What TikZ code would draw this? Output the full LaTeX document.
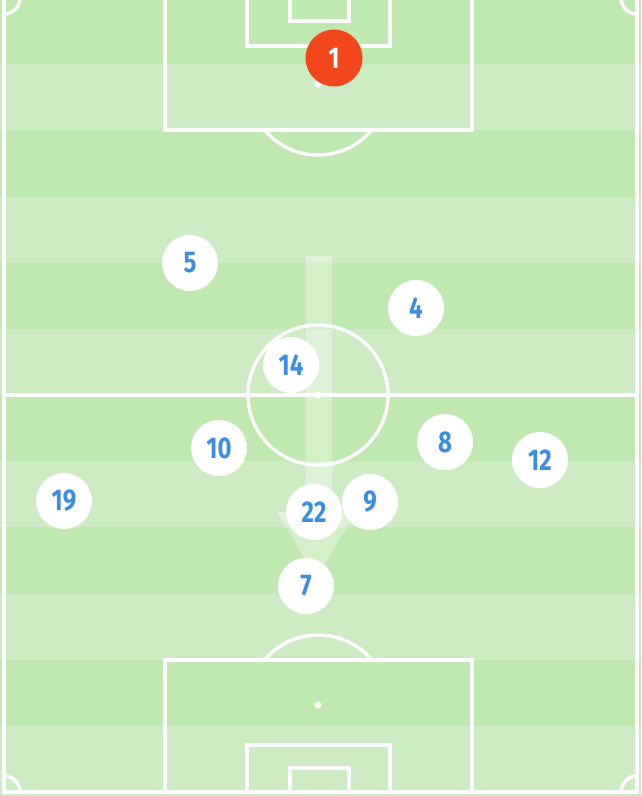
\documentclass[tikz,border=0pt]{standalone}
\usepackage{fontspec}
\setmainfont{Fira Sans}
\definecolor{stripeDark}{HTML}{C0E9B1}
\definecolor{stripeLight}{HTML}{CEECC4}
\definecolor{numBlue}{HTML}{3A8DE0}
\definecolor{keeperRed}{HTML}{F2461C}
\tikzset{
  pitchline/.style={draw=white, line width=3.4pt},
  player/.style={circle, fill=white, minimum size=56pt, inner sep=0pt,
    text=numBlue, font=\fontsize{30}{30}\selectfont\bfseries},
  keeper/.style={circle, fill=keeperRed, minimum size=57pt, inner sep=0pt,
    text=white, font=\fontsize{30}{30}\selectfont\bfseries},
  passarrow/.style={fill=white, fill opacity=0.32},
}
\newcommand{\nnum}[1]{\scalebox{0.8}[1]{#1}}
\begin{document}
\begin{tikzpicture}[x=1pt,y=-1pt]
\useasboundingbox (0,0) rectangle (641,796);
% stripes
\fill[stripeLight] (0,0) rectangle (641,796);
\foreach \k in {0,...,11} {
  \pgfmathtruncatemacro{\odd}{mod(\k,2)}
  \ifnum\odd=0
    \fill[stripeDark] (0,{-2+66.17*\k}) rectangle (641,{-2+66.17*(\k+1)});
  \else
    \fill[stripeLight] (0,{-2+66.17*\k}) rectangle (641,{-2+66.17*(\k+1)});
  \fi
}
% outer lines
\draw[pitchline] (4,-5) -- (4,792) -- (637,792) -- (637,-5);
\draw[pitchline] (4,395) -- (637,395);
% center circle and spot
\draw[pitchline] (318,395) circle (70);
\fill[white] (318,395) circle (3.5);
% top boxes
\draw[pitchline] (165,-5) -- (165,130) -- (472,130) -- (472,-5);
\draw[pitchline] (247,-5) -- (247,46) -- (390,46) -- (390,-5);
\draw[pitchline] (290,-5) -- (290,21) -- (349,21) -- (349,-5);
\fill[white] (318,84) circle (3.5);
\draw[pitchline] (264.5,130) arc[start angle=220, end angle=320, x radius=70, y radius=-70];
% bottom boxes
\draw[pitchline] (165,792) -- (165,660) -- (472,660) -- (472,792);
\draw[pitchline] (247,792) -- (247,745) -- (390,745) -- (390,792);
\draw[pitchline] (290,792) -- (290,768) -- (349,768) -- (349,792);
\fill[white] (318,705) circle (3.5);
\draw[pitchline] (264.5,660) arc[start angle=140, end angle=40, x radius=70, y radius=-70];
% corner arcs
\draw[pitchline] (4,14) arc[start angle=90, end angle=0, radius=16];
\draw[pitchline] (637,14) arc[start angle=90, end angle=180, radius=16];
\draw[pitchline] (4,776) arc[start angle=270, end angle=360, radius=16];
\draw[pitchline] (637,776) arc[start angle=270, end angle=180, radius=16];
% pass arrow
\path[passarrow] (306,256) -- (332,256) -- (332,512) -- (356,512) -- (316,578) -- (277,512) -- (306,512) -- cycle;
% players
\node[keeper] (p1) at (334,58) {\nnum{1}};
\node[player] (p5) at (190,263) {\nnum{5}};
\node[player] (p4) at (416,308) {\nnum{4}};
\node[player] (p14) at (291,365) {\nnum{14}};
\node[player] (p10) at (219,448) {\nnum{10}};
\node[player] (p8) at (445,442) {\nnum{8}};
\node[player] (p12) at (540,460) {\nnum{12}};
\node[player] (p19) at (64,501) {\nnum{19}};
\node[player] (p9) at (370,502) {\nnum{9}};
\node[player] (p22) at (314,512) {\nnum{22}};
\node[player] (p7) at (306,586) {\nnum{7}};
\end{tikzpicture}
\end{document}
